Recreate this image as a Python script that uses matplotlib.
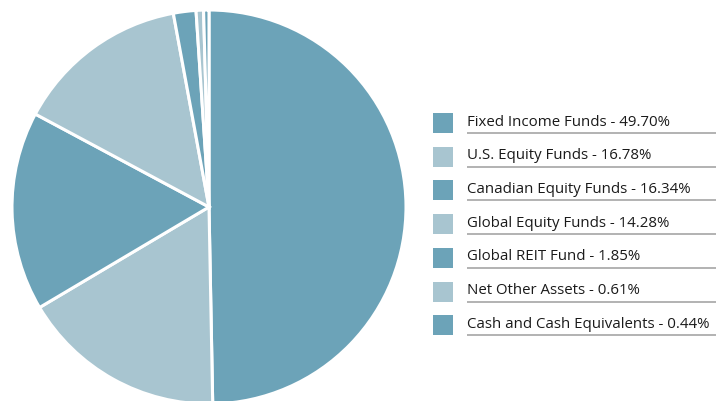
import matplotlib.pyplot as plt
from matplotlib.patches import Rectangle

labels = ["Fixed Income Funds", "U.S. Equity Funds", "Canadian Equity Funds",
          "Global Equity Funds", "Global REIT Fund", "Net Other Assets",
          "Cash and Cash Equivalents"]
weights = [49.70, 16.78, 16.34, 14.28, 1.85, 0.61, 0.44]

DARK = "#6ca3b8"
LIGHT = "#a8c5d0"
colors = [DARK if i % 2 == 0 else LIGHT for i in range(len(weights))]

W, H = 716, 401
fig = plt.figure(figsize=(W / 100, H / 100), dpi=100)
ax = fig.add_axes([0, 0, 1, 1])

# pie laid out in pixel units, clockwise from 12 o'clock
ax.pie(weights, colors=colors, startangle=90, counterclock=False,
       center=(209, H - 207), radius=197,
       wedgeprops=dict(edgecolor="white", linewidth=2.2))
ax.set_xlim(0, W)
ax.set_ylim(0, H)
ax.set_aspect("auto")
ax.axis("off")

# legend rows with underline
row0, step = 123, 33.7
for i, (lab, val) in enumerate(zip(labels, weights)):
    y = H - (row0 + i * step)
    ax.add_patch(Rectangle((433, y - 10), 20, 20, facecolor=colors[i],
                           edgecolor="none"))
    ax.text(467, y + 1, f"{lab} - {val:.2f}%", fontsize=10.8,
            family="Open Sans", color="#1a1a1a", va="center", ha="left")
    ax.plot([467, W], [y - 10, y - 10], color="#a6a6a6", lw=1.2,
            solid_capstyle="butt")

fig.savefig("out.png", dpi=100)
